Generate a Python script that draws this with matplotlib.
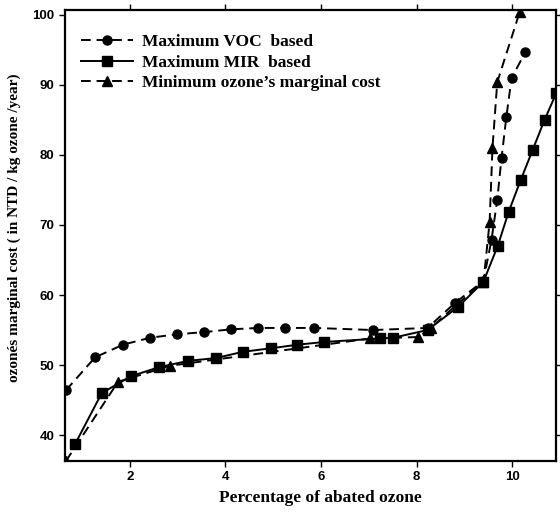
import matplotlib
matplotlib.use("Agg")
import matplotlib.pyplot as plt

# Data
voc_x = [0.66, 1.27, 1.85, 2.42, 2.99, 3.55, 4.11, 4.69, 5.25, 5.86, 7.09, 8.23, 8.81, 9.40, 9.57, 9.69, 9.78, 9.88, 9.99, 10.28]
voc_y = [46.4, 51.1, 52.9, 53.9, 54.4, 54.7, 55.1, 55.3, 55.3, 55.3, 55.0, 55.3, 58.9, 62.0, 67.9, 73.6, 79.6, 85.4, 91.0, 94.7]

mir_x = [0.85, 1.41, 2.02, 2.61, 3.22, 3.80, 4.37, 4.96, 5.50, 6.07, 7.24, 7.51, 8.23, 8.87, 9.40, 9.70, 9.93, 10.18, 10.43, 10.68, 10.93]
mir_y = [38.7, 46.0, 48.4, 49.7, 50.6, 51.0, 51.9, 52.4, 52.9, 53.3, 53.8, 53.9, 55.0, 58.3, 61.9, 67.0, 71.9, 76.4, 80.7, 85.0, 88.9]

min_x = [0.66, 1.75, 2.84, 7.03, 8.04, 8.30, 8.87, 9.40, 9.53, 9.59, 9.69, 10.16]
min_y = [36.3, 47.6, 49.9, 53.8, 54.0, 55.3, 58.8, 61.8, 70.4, 81.0, 90.4, 100.4]

x_ticks = [2, 4, 6, 8, 10]
y_ticks = [40, 50, 60, 70, 80, 90, 100]

serif = "Liberation Serif"
sans = "Liberation Sans"

fig = plt.figure(figsize=(5.6, 5.12), dpi=100)
ax = fig.add_axes([65/560, 1 - 461/512, (556-65)/560, (461-10)/512])

ax.plot(voc_x, voc_y, color="black", linestyle=(0, (5, 3)), linewidth=1.4,
        marker="o", markersize=6.5, label="Maximum VOC  based")
ax.plot(mir_x, mir_y, color="black", linestyle="-", linewidth=1.4,
        marker="s", markersize=7, label="Maximum MIR  based")
ax.plot(min_x, min_y, color="black", linestyle=(0, (5, 3)), linewidth=1.4,
        marker="^", markersize=6.5, label="Minimum ozone\u2019s marginal cost")

ax.set_xlim(0.64, 10.92)
ax.set_ylim(36.3, 100.7)
ax.set_xticks(x_ticks)
ax.set_yticks(y_ticks)
ax.tick_params(direction="out", length=4, width=1, top=True, right=True,
               labeltop=False, labelright=False)
for lab in ax.get_xticklabels() + ax.get_yticklabels():
    lab.set_fontfamily(sans)
    lab.set_fontsize(9.5)
    lab.set_fontweight("bold")
for s in ax.spines.values():
    s.set_linewidth(1.6)

fig.text(320/560, 1 - 498/512, "Percentage of abated ozone", ha="center", va="center",
         fontfamily=serif, fontweight="bold", fontsize=12.5)
fig.text(14/560, 1 - 228/512, "ozon\u00e9s marginal cost ( in NTD / kg ozone /year)",
         ha="center", va="center", rotation=90,
         fontfamily=serif, fontweight="bold", fontsize=11)

leg = ax.legend(loc="upper left", bbox_to_anchor=(0.018, 0.962), frameon=False,
                prop={"family": serif, "weight": "bold", "size": 12.5},
                handlelength=3.0, labelspacing=0.25, handletextpad=0.5, borderaxespad=0)

fig.savefig("out.png", dpi=100)
